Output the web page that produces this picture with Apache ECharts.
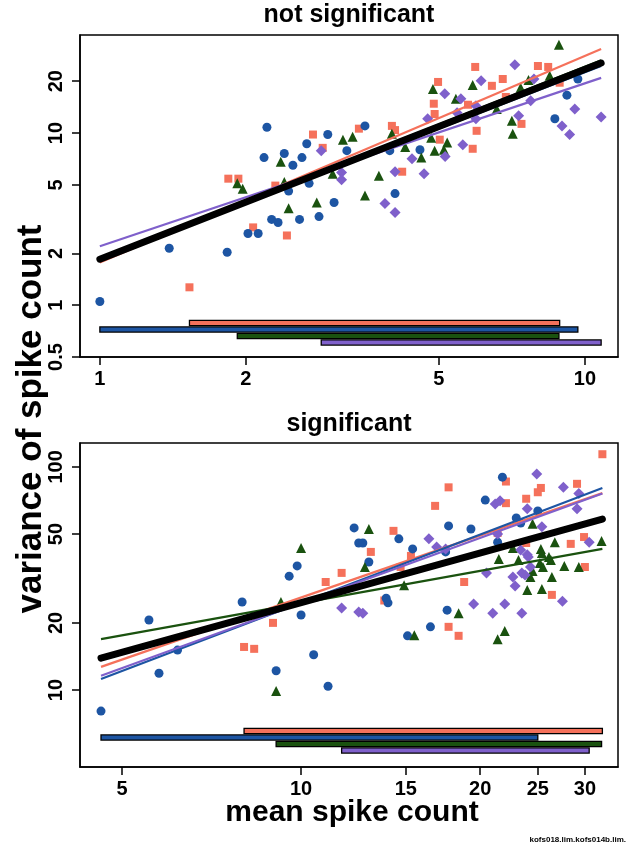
<!DOCTYPE html>
<html><head><meta charset="utf-8">
<script src="https://cdn.jsdelivr.net/npm/echarts@6/dist/echarts.min.js"></script>
<style>html,body{margin:0;padding:0;background:#fff}#c{width:629px;height:853px}</style>
</head><body><div id="c"></div>
<script>
// ---------- DATA ----------
const seriesNames = ['orange', 'blue', 'green', 'purple'];

// top panel ("not significant"): [mean, variance]
const topOrange = [[2.75,9.8],[3.42,10.6],[1.84,5.43],[1.93,5.43],[2.07,2.83],[2.43,2.54],[1.53,1.27],[2.3,4.95],[2.88,8.2],
  [5.94,24.2],[8.0,24.5],[8.4,24.2],[8.87,19.6],[4.98,19.8],[6.43,18.8],[6.77,20.6],[6.87,16.2],[4.88,14.8],[4.9,12.9],
  [5.74,14.6],[4.0,11.0],[4.06,10.4],[7.4,11.3],[5.98,10.3],[5.02,9.15],[5.87,8.1],[4.2,5.96]];
const topBlue = [[2.21,10.8],[2.95,9.8],[2.67,8.66],[3.23,7.9],[2.18,7.2],[2.40,7.6],[2.61,7.2],[2.50,6.5],[2.45,4.6],[2.70,5.1],
  [3.04,3.95],[2.26,3.15],[2.33,3.02],[2.58,3.15],[2.83,3.27],[2.02,2.61],[2.12,2.61],[1.39,2.14],[1.83,2.03],[1.0,1.05],
  [3.52,11.0],[4.57,8.0],[3.96,7.9],[4.06,4.45],[8.67,12.1],[9.18,16.6],[9.67,20.6]];
const topGreen = [[3.17,9.15],[3.32,9.5],[2.36,6.8],[1.92,5.1],[1.97,4.75],[3.02,5.8],[2.40,5.2],[2.45,3.65],[2.80,3.95],
  [8.84,32.6],[8.46,21.5],[7.65,20.3],[4.86,18.0],[5.87,19.0],[7.37,18.3],[5.42,15.8],[6.58,13.8],[4.0,9.9],[7.07,11.8],
  [7.1,9.9],[4.82,9.4],[5.2,8.8],[5.12,8.0],[4.9,7.9],[4.6,7.2],[4.26,8.3],[3.76,5.65],[3.52,4.33]];
const topPurple = [[2.86,7.9],[3.15,5.9],[3.15,5.35],[7.17,24.9],[7.85,20.6],[5.14,16.9],[6.11,20.1],[5.55,15.8],[5.96,14.4],
  [7.73,15.4],[9.53,13.8],[4.74,12.1],[5.45,13.1],[5.96,12.1],[7.3,12.6],[8.97,11.0],[9.3,9.8],[10.8,12.4],[5.6,8.55],
  [5.15,7.3],[4.4,7.1],[4.06,5.96],[4.66,5.8],[3.87,3.9],[4.06,3.45]];

// top panel fitted lines: value at first and last x
const topFitX = [1.0, 10.8];
const topFitOrange = [1.77, 30.8];
const topFitBlue = [1.85, 24.5];
const topFitGreen = [1.86, 26.5];
const topFitPurple = [2.2, 20.9];
const topFitAll = [1.85, 25.5];

// bottom panel ("significant")
const botOrange = [[11.7,33.5],[11.0,30.5],[8.97,20.0],[8.02,15.6],[8.34,15.3],[32.1,114],[22.1,86],[17.7,81],[29.1,84],
  [25.3,80.5],[25.0,77],[23.9,72],[22.1,68.8],[16.8,66.9],[14.3,51.7],[21.4,50.6],[29.9,48.5],[28.4,45.2],[13.1,41.6],
  [23.9,45.6],[15.3,39.9],[14.7,35.6],[30.0,35.6],[18.8,30.5],[26.4,26.7],[13.8,25.2],[17.7,19.2],[18.4,17.5]];
const botBlue = [[12.28,53.3],[12.5,45.6],[9.85,36.0],[9.55,32.4],[7.96,24.8],[5.55,20.6],[10.0,21.7],[6.2,15.1],[5.77,11.9],
  [9.08,12.2],[10.5,14.4],[11.1,10.4],[4.61,8.05],[21.8,90],[20.4,71],[25.0,63.5],[23.0,59],[23.4,56],[17.7,54.4],
  [19.3,52.7],[14.6,47.6],[12.7,45.6],[15.4,42.9],[17.5,41.6],[21.4,46],[13.0,37.5],[13.9,25.8],[14.0,24.6],[17.6,22.8],
  [16.5,19.2],[15.1,17.5]];
const botGreen = [[10.0,43.3],[9.25,24.8],[9.08,9.9],[24.5,55.6],[13.0,52.7],[32.0,46.5],[26.7,46],[25.3,42.9],[25.4,41.1],
  [22.7,43.3],[12.8,35.6],[21.5,38.7],[23.2,38.3],[26.1,39.5],[26.3,38.3],[25.2,37.1],[25.5,35.6],[27.7,36],[29.3,35.6],
  [24.5,34.2],[26.4,32.1],[24.3,32.1],[14.9,29.5],[24.0,28.1],[25.4,28.4],[18.4,22.1],[15.5,17.6],[22.0,18.4],[21.4,16.9]];
const botPurple = [[11.7,23.3],[12.5,22.4],[24.9,93],[27.6,81],[29.3,76],[21.2,68.2],[21.6,70.5],[24.0,64.9],[29.1,64.9],
  [25.4,53.9],[21.4,50.0],[16.4,47.6],[30.5,46],[16.9,43.8],[17.5,42.9],[23.4,42.4],[24.0,40.4],[24.1,39.5],[24.3,35.6],
  [20.5,33.5],[23.5,33.5],[23.8,32.8],[22.7,32.1],[22.9,29.3],[27.5,25.0],[12.7,22.1],[19.5,24.3],[21.0,22.1],[22.0,24.3],
  [23.5,22.1]];

const botFitX = [4.61, 32.1];
const botFitOrange = [12.7, 76.3];
const botFitBlue = [11.2, 80.5];
const botFitGreen = [16.9, 42.9];
const botFitPurple = [11.6, 76];
const botFitAll = [13.9, 58.4];

// axis ticks and ranges
const topXTicks = [1, 2, 5, 10];
const topYTicks = [0.5, 1, 2, 5, 10, 20];
const botXTicks = [5, 10, 15, 20, 25, 30];
const botYTicks = [10, 20, 50, 100];
const topXRange = [0.91, 11.7];
const topYRange = [0.5, 37.1];
const botXRange = [4.25, 34.1];
const botYRange = [4.52, 128];

// ---------- RENDER ----------
const L = v => Math.log10(v);
const colors = { orange: '#f5715b', blue: '#1d55a3', green: '#1a520f', purple: '#7f60cb' };
const symbols = { orange: 'rect', blue: 'circle', green: 'triangle', purple: 'diamond' };
const sizes = { orange: 8, blue: 9, green: 10, purple: 11 };
const FONT = "'Liberation Sans', Arial, Helvetica, sans-serif";

const panels = [
  { data: { orange: topOrange, blue: topBlue, green: topGreen, purple: topPurple },
    fitX: topFitX, fits: { orange: topFitOrange, blue: topFitBlue, green: topFitGreen, purple: topFitPurple }, fitAll: topFitAll,
    xTicks: topXTicks, yTicks: topYTicks, xRange: topXRange, yRange: topYRange, barOffsets: [34, 27.5, 21, 14.5] },
  { data: { orange: botOrange, blue: botBlue, green: botGreen, purple: botPurple },
    fitX: botFitX, fits: { orange: botFitOrange, blue: botFitBlue, green: botFitGreen, purple: botFitPurple }, fitAll: botFitAll,
    xTicks: botXTicks, yTicks: botYTicks, xRange: botXRange, yRange: botYRange, barOffsets: [36, 29.5, 23, 16.5] }
];

const fmt = v => String(+Math.pow(10, v).toPrecision(3));

const grids = [
  { left: 80, right: 11, top: 35, height: 322, show: true, borderColor: '#000', borderWidth: 1.5, backgroundColor: 'transparent' },
  { left: 80, right: 11, top: 443, height: 324, show: true, borderColor: '#000', borderWidth: 1.5, backgroundColor: 'transparent' }
];

const xAxes = [], yAxes = [], series = [];
panels.forEach((p, gi) => {
  xAxes.push({
    type: 'value', gridIndex: gi, position: 'bottom', min: L(p.xRange[0]), max: L(p.xRange[1]),
    splitLine: { show: false }, axisLine: { show: true, onZero: false, lineStyle: { color: '#000', width: 1.5 } },
    axisTick: { show: true, length: 8, inside: false, lineStyle: { color: '#000', width: 1.5 }, customValues: p.xTicks.map(L) },
    axisLabel: { show: true, customValues: p.xTicks.map(L), formatter: fmt, margin: 12, color: '#000',
      fontFamily: FONT, fontWeight: 'bold', fontSize: 20 }
  });
  yAxes.push({
    type: 'value', gridIndex: gi, position: 'left', min: L(p.yRange[0]), max: L(p.yRange[1]),
    splitLine: { show: false }, axisLine: { show: true, onZero: false, lineStyle: { color: '#000', width: 1.5 } },
    axisTick: { show: true, length: 8, inside: false, lineStyle: { color: '#000', width: 1.5 }, customValues: p.yTicks.map(L) },
    axisLabel: { show: true, customValues: p.yTicks.map(L), formatter: fmt, rotate: 90, margin: 14, color: '#000',
      fontFamily: FONT, fontWeight: 'bold', fontSize: 20 }
  });
  // scatter points
  seriesNames.forEach(n => {
    series.push({
      type: 'scatter', xAxisIndex: gi, yAxisIndex: gi, symbol: symbols[n], symbolSize: sizes[n],
      itemStyle: { color: colors[n], opacity: 1 }, silent: true, z: 2,
      data: p.data[n].map(d => [L(d[0]), L(d[1])])
    });
  });
  // fitted lines
  seriesNames.forEach(n => {
    series.push({
      type: 'line', xAxisIndex: gi, yAxisIndex: gi, showSymbol: false, silent: true, z: 3,
      lineStyle: { color: colors[n], width: 2.2 },
      data: [[L(p.fitX[0]), L(p.fits[n][0])], [L(p.fitX[1]), L(p.fits[n][1])]]
    });
  });
  series.push({
    type: 'line', xAxisIndex: gi, yAxisIndex: gi, showSymbol: false, silent: true, z: 4,
    lineStyle: { color: '#000', width: 7, cap: 'round' },
    data: [[L(p.fitX[0]), L(p.fitAll[0])], [L(p.fitX[1]), L(p.fitAll[1])]]
  });
  // range bars (min..max of each group's mean counts)
  const barData = seriesNames.map((n, i) => {
    const xs = p.data[n].map(d => d[0]);
    return [L(Math.min(...xs)), L(Math.max(...xs)), i, L(p.yRange[0])];
  });
  const yMinLog = L(p.yRange[0]);
  series.push({
    type: 'custom', xAxisIndex: gi, yAxisIndex: gi, silent: true, z: 5, clip: false,
    encode: { x: [0, 1], y: 3 },
    data: barData,
    renderItem: (params, api) => {
      const i = api.value(2);
      const a = api.coord([api.value(0), yMinLog]);
      const b = api.coord([api.value(1), yMinLog]);
      const cy = a[1] - p.barOffsets[i];
      return { type: 'rect', shape: { x: a[0], y: cy - 2.6, width: b[0] - a[0], height: 5.2 },
        style: { fill: colors[seriesNames[i]], stroke: '#000', lineWidth: 1.3 } };
    }
  });
});

const chart = echarts.init(document.getElementById('c'), null, { renderer: 'canvas' });
chart.setOption({
  animation: false,
  backgroundColor: '#fff',
  grid: grids, xAxis: xAxes, yAxis: yAxes, series: series,
  graphic: [
    { type: 'text', x: 349, y: 15, style: { text: 'not significant', fill: '#000', font: "bold 25px " + FONT, textAlign: 'center', textVerticalAlign: 'middle' } },
    { type: 'text', x: 349, y: 424, style: { text: 'significant', fill: '#000', font: "bold 25px " + FONT, textAlign: 'center', textVerticalAlign: 'middle' } },
    { type: 'text', x: 31, y: 419, rotation: Math.PI / 2, style: { text: 'variance of spike count', fill: '#000', font: "bold 35px " + FONT, textAlign: 'center', textVerticalAlign: 'middle' } },
    { type: 'text', x: 352, y: 813, style: { text: 'mean spike count', fill: '#000', font: "bold 30px " + FONT, textAlign: 'center', textVerticalAlign: 'middle' } },
    { type: 'text', x: 626, y: 840, style: { text: 'kofs018.lim.kofs014b.lim.', fill: '#000', font: "bold 8px " + FONT, textAlign: 'right', textVerticalAlign: 'middle' } }
  ]
});
</script></body></html>
